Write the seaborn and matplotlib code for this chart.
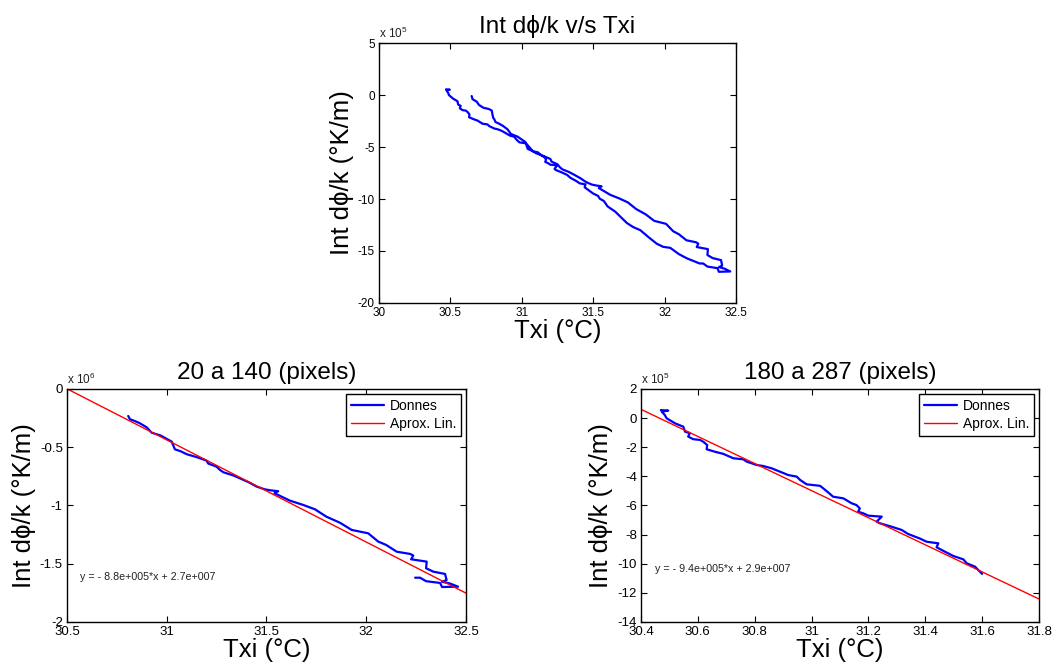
import numpy as np
import matplotlib
matplotlib.use("Agg")
import matplotlib.pyplot as plt
from matplotlib.ticker import FuncFormatter
import seaborn as sns

# ── Data (temperature in °C, Int dphi/k in units of 1e5 °K/m) ──
# pixels 1-20 (only in the full curve)
txi_1_20 = [30.649, 30.655, 30.684, 30.70, 30.73, 30.77, 30.79, 30.795, 30.80]
phi_1_20 = [-0.10, -0.40, -0.64, -0.95, -1.22, -1.35, -1.50, -1.90, -2.20]

# pixels 20-140
txi_20_140 = [30.807, 30.816, 30.84, 30.866, 30.90, 30.924, 30.97, 31.025, 31.041,
              31.07, 31.10, 31.15, 31.20, 31.208, 31.25, 31.267, 31.284, 31.33, 31.367,
              31.41, 31.451, 31.49, 31.52, 31.559, 31.54, 31.618, 31.685, 31.743,
              31.80, 31.868, 31.927, 32.01, 32.06, 32.10, 32.153, 32.22, 32.236,
              32.225, 32.303, 32.30, 32.336, 32.395, 32.403, 32.38, 32.42, 32.46,
              32.38, 32.37, 32.30, 32.27, 32.245]
phi_20_140 = [-2.32, -2.60, -2.75, -2.95, -3.30, -3.75, -4.00, -4.52, -5.18,
              -5.35, -5.60, -5.85, -6.15, -6.40, -6.67, -6.95, -7.15, -7.40, -7.67,
              -8.00, -8.38, -8.61, -8.70, -8.78, -8.95, -9.59, -9.96, -10.33,
              -10.96, -11.48, -12.10, -12.39, -13.10, -13.39, -13.97, -14.16, -14.30,
              -14.62, -14.82, -15.39, -15.68, -15.88, -16.40, -16.55, -16.70, -16.97,
              -17.00, -16.65, -16.50, -16.20, -16.20]

# pixels 140-180 (only in the full curve)
txi_140_180 = [32.20, 32.155, 32.10, 32.04, 31.99, 31.945, 31.89, 31.83, 31.78,
               31.735, 31.69, 31.653, 31.62]
phi_140_180 = [-15.95, -15.70, -15.30, -14.70, -14.60, -14.30, -13.70, -13.00, -12.70,
               -12.30, -11.70, -11.20, -10.90]

# pixels 180-287
txi_180_287 = [31.60, 31.575, 31.546, 31.534, 31.499, 31.469, 31.44, 31.446, 31.405,
               31.38, 31.34, 31.317, 31.282, 31.24, 31.229, 31.247, 31.20, 31.182,
               31.164, 31.17, 31.158, 31.141, 31.112, 31.076, 31.065, 31.041, 31.03,
               30.983, 30.96, 30.948, 30.918, 30.889, 30.86, 30.83, 30.807, 30.772,
               30.76, 30.725, 30.69, 30.66, 30.631, 30.633, 30.619, 30.608, 30.584,
               30.566, 30.572, 30.555, 30.549, 30.52, 30.49, 30.484, 30.473, 30.496,
               30.47]
phi_180_287 = [-10.70, -10.20, -9.97, -9.70, -9.47, -9.17, -8.87, -8.60, -8.49,
               -8.26, -7.96, -7.68, -7.46, -7.22, -7.11, -6.77, -6.70, -6.54,
               -6.43, -6.20, -5.97, -5.85, -5.51, -5.40, -5.21, -4.82, -4.65,
               -4.55, -4.25, -4.02, -3.91, -3.68, -3.45, -3.29, -3.22, -2.99,
               -2.83, -2.76, -2.46, -2.31, -2.14, -1.85, -1.62, -1.50, -1.45,
               -1.27, -1.04, -0.93, -0.59, -0.36, -0.01, 0.21, 0.44, 0.51,
               0.55]

# linear fits (slope, intercept) and their labels
fit_20_140 = (-8.77e5, 2.675e7)
fit_180_287 = (-9.30e5, 2.8332e7)
eq_20_140 = "y = - 8.8e+005*x + 2.7e+007"
eq_180_287 = "y = - 9.4e+005*x + 2.9e+007"

titles = ["Int d\u03d5/k v/s Txi", "20 a 140 (pixels)", "180 a 287 (pixels)"]
xlabel = "Txi (\u00b0C)"
ylabel = "Int d\u03d5/k (\u00b0K/m)"
legend_labels = ["Donnes", "Aprox. Lin."]

top_xticks = [30, 30.5, 31, 31.5, 32, 32.5]
top_yticks = [5, 0, -5, -10, -15, -20]            # x 1e5
left_xticks = [30.5, 31, 31.5, 32, 32.5]
left_yticks = [0, -0.5, -1, -1.5, -2]             # x 1e6
right_xticks = [30.4, 30.6, 30.8, 31, 31.2, 31.4, 31.6, 31.8]
right_yticks = [2, 0, -2, -4, -6, -8, -10, -12, -14]  # x 1e5

sns.set_theme(style="ticks")
plt.rcParams["font.family"] = ["Liberation Sans", "DejaVu Sans"]
plt.rcParams["text.color"] = "black"
plt.rcParams["axes.labelcolor"] = "black"

fig = plt.figure(figsize=(10.61, 6.69), dpi=100)
ax_top = fig.add_axes([0.3572, 0.5471, 0.3365, 0.3886])
ax_l = fig.add_axes([0.0631, 0.0703, 0.3761, 0.3483])
ax_r = fig.add_axes([0.6041, 0.0703, 0.3751, 0.3483])


def style_axes(ax, xticks, yticks, scale, expo, ticksize, title):
    ax.set_xlim(min(xticks), max(xticks))
    ax.set_ylim(min(yticks) * scale, max(yticks) * scale)
    ax.set_xticks(xticks)
    ax.set_yticks([v * scale for v in yticks])
    ax.xaxis.set_major_formatter(FuncFormatter(lambda v, p: f"{v:g}"))
    ax.yaxis.set_major_formatter(FuncFormatter(lambda v, p: f"{v / scale:g}"))
    ax.tick_params(direction="in", top=True, right=True, length=4, width=0.8,
                   labelsize=ticksize, pad=3, colors="black")
    for s in ax.spines.values():
        s.set_visible(True)
        s.set_color("black")
        s.set_linewidth(1.0)
    ax.set_xlabel(xlabel, fontsize=18.5, labelpad=0)
    ax.set_ylabel(ylabel, fontsize=18.5, labelpad=3)
    ax.set_title(title, fontsize=17.5, pad=7, color="black")
    ax.text(0.0, 1.008, f"x 10$^{{\\mathregular{{{expo}}}}}$", transform=ax.transAxes,
            ha="left", va="bottom", fontsize=8.5, color="#222222")


# ── Top: full curve ──
txi_all = txi_1_20 + txi_20_140 + txi_140_180 + txi_180_287
phi_all = np.array(phi_1_20 + phi_20_140 + phi_140_180 + phi_180_287) * 1e5
sns.lineplot(x=txi_all, y=phi_all, sort=False, estimator=None, color="#0000ff",
             lw=1.6, ax=ax_top)
style_axes(ax_top, top_xticks, top_yticks, 1e5, 5, 8.5, titles[0])

# ── Bottom panels: segment + linear approximation ──
panels = [
    (ax_l, txi_20_140, phi_20_140, fit_20_140, eq_20_140, left_xticks, left_yticks, 1e6, 6,
     titles[1], (0.033, 0.194)),
    (ax_r, txi_180_287, phi_180_287, fit_180_287, eq_180_287, right_xticks, right_yticks, 1e5, 5,
     titles[2], (0.035, 0.226)),
]
for ax, tx, ph, fit, eq, xt, yt, sc, ex, ttl, eqpos in panels:
    sns.lineplot(x=tx, y=np.array(ph) * 1e5, sort=False, estimator=None,
                 color="#0000ff", lw=1.6, label=legend_labels[0], ax=ax)
    xf = np.array([min(xt), max(xt)])
    sns.lineplot(x=xf, y=fit[0] * xf + fit[1], color="#ff0000", lw=1.0,
                 label=legend_labels[1], ax=ax)
    style_axes(ax, xt, yt, sc, ex, 9.5, ttl)
    ax.text(eqpos[0], eqpos[1], eq, transform=ax.transAxes, ha="left", va="center",
            fontsize=7.7, color="#222222")
    leg = ax.legend(loc="upper right", frameon=True, fancybox=False, framealpha=1,
                    edgecolor="black", fontsize=10, handlelength=2.4,
                    borderaxespad=0.35, borderpad=0.35, labelspacing=0.3,
                    handletextpad=0.4)
    leg.get_frame().set_linewidth(1.0)

fig.savefig("out.png", dpi=100)
